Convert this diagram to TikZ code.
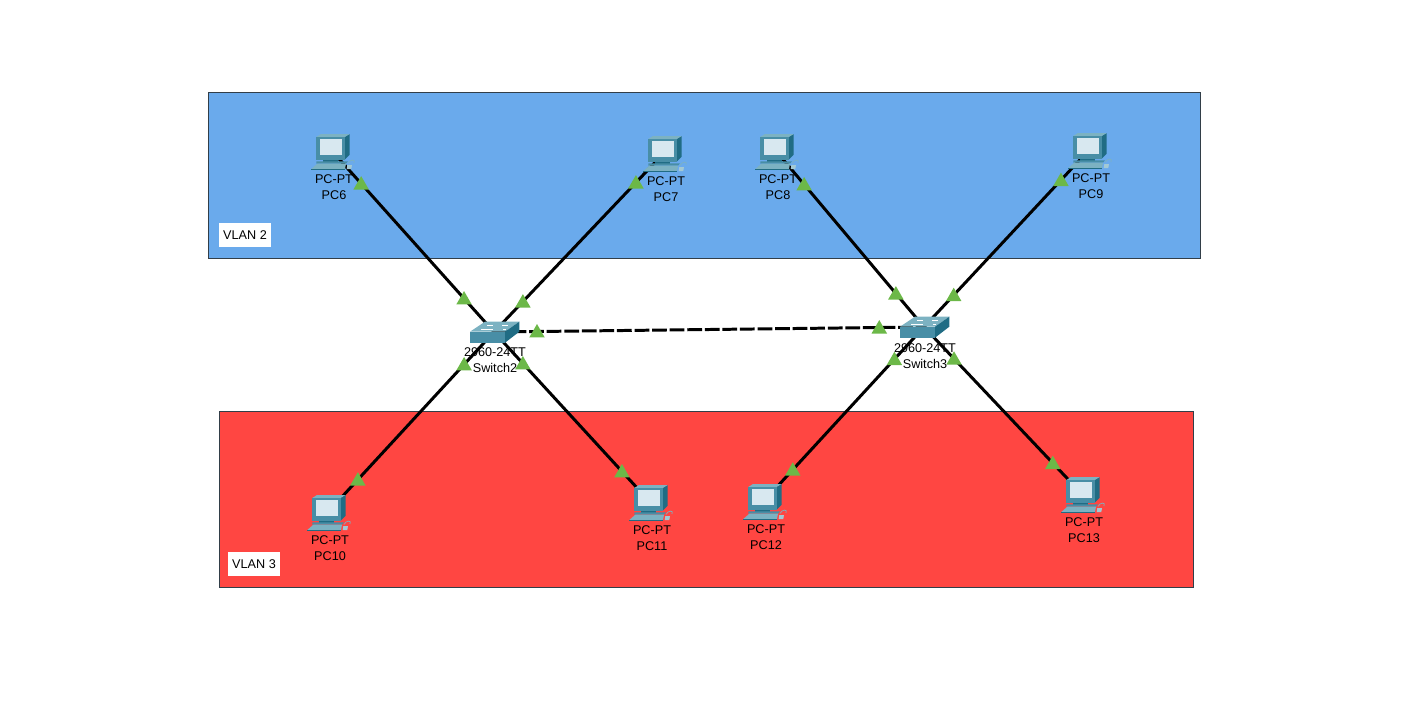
\documentclass[tikz,border=0pt]{standalone}
\usepackage{fontspec}
\setmainfont{Liberation Sans}
\usetikzlibrary{shapes.geometric}
\definecolor{vlanblue}{RGB}{106,170,236}
\definecolor{vlanred}{RGB}{255,70,66}
\definecolor{linkgreen}{RGB}{108,184,72}
\definecolor{frameline}{RGB}{50,62,72}
\definecolor{tealdark}{RGB}{32,108,132}
\definecolor{tealmid}{RGB}{72,142,166}
\definecolor{teallight}{RGB}{124,178,194}
\definecolor{screenlight}{RGB}{216,232,240}
\tikzset{
    vlanbox/.style={draw=frameline,line width=0.55pt},
    vlantag/.style={fill=white,font=\fontsize{7.2}{9}\selectfont,minimum width=30pt,minimum height=13.6pt,inner sep=0pt},
    devlabel/.style={align=center,inner sep=0pt,font=\fontsize{7.2}{9.1}\selectfont},
    cable/.style={line width=1.7pt,black},
    uplink/.style={line width=1.7pt,black,dash pattern=on 8.4pt off 1.6pt},
    linkup/.style={regular polygon,regular polygon sides=3,fill=linkgreen,inner sep=0pt,minimum size=10.2pt,yshift=-0.85pt},
    pics/pcicon/.style={code={
        \fill[tealdark] (12.7,-14)--(17.7,-17)--(17.7,3.7)--(12.7,8.7)--cycle;
        \fill[teallight] (-15.7,-14)--(-11,-17)--(17.7,-17)--(12.7,-14)--cycle;
        \fill[tealmid] (-15.7,-14) rectangle (12.7,8.7);
        \fill[screenlight] (-12.3,-12) rectangle (10,3.7);
        \fill[tealdark] (-9,8.7) rectangle (6,10.5);
        \fill[tealmid] (-15.7,10.3)--(16,10.3)--(14,12.7)--(-15.7,12.7)--cycle;
        \fill[teallight] (-20.7,18)--(-14.7,12.7)--(14,12.7)--(13,18)--cycle;
        \fill[tealdark] (-20.7,18) rectangle (13,18.8);
        \fill[teallight!70!white] (15.3,14)--(20,14)--(19.3,18)--(14.7,18)--cycle;
        \draw[teallight,line width=0.4pt] (16,12.5) .. controls (18,8) and (24,8) .. (22,12);
    }},
    pics/switchicon/.style={code={
        \fill[tealmid] (-24,-0.3) rectangle (11,10.7);
        \fill[teallight] (-24,-0.3)--(-9,-10.3)--(25.3,-10.3)--(11,-0.3)--cycle;
        \fill[tealdark] (11,-0.3)--(25.3,-10.3)--(25.3,-0.3)--(11,10.7)--cycle;
        \draw[white,line width=0.5pt] (-7,-7)--(-1,-7) (8,-7)--(14,-7) (-13,-3)--(-1,-3) (9,-3)--(12,-3);
    }}
}

\begin{document}
\begin{tikzpicture}[x=0.02cm,y=-0.02cm]
    \useasboundingbox (0,0) rectangle (1407,711);

    \coordinate (sw2) at (494,332);
    \coordinate (sw3) at (924,327);
    \coordinate (pc6) at (332,151);
    \coordinate (pc7) at (664,153);
    \coordinate (pc8) at (776,151);
    \coordinate (pc9) at (1089,150);
    \coordinate (pc10) at (328,512);
    \coordinate (pc11) at (650,502);
    \coordinate (pc12) at (764,501);
    \coordinate (pc13) at (1082,494);

    \draw[vlanbox,fill=vlanblue] (208,92) rectangle (1200,258);
    \draw[vlanbox,fill=vlanred] (219,411) rectangle (1193,587);
    \node[vlantag] (vlan2) at (245,235) {VLAN 2};
    \node[vlantag] (vlan3) at (254,564) {VLAN 3};

    \draw[cable] (pc6)--node[pos=0.18,linkup]{}node[pos=0.815,linkup]{}(sw2);
    \draw[cable] (pc7)--node[pos=0.165,linkup]{}node[pos=0.83,linkup]{}(sw2);
    \draw[cable] (pc8)--node[pos=0.19,linkup]{}node[pos=0.81,linkup]{}(sw3);
    \draw[cable] (pc9)--node[pos=0.17,linkup]{}node[pos=0.82,linkup]{}(sw3);
    \draw[cable] (pc10)--node[pos=0.18,linkup]{}node[pos=0.82,linkup]{}(sw2);
    \draw[cable] (pc11)--node[pos=0.18,linkup]{}node[pos=0.815,linkup]{}(sw2);
    \draw[cable] (pc12)--node[pos=0.18,linkup]{}node[pos=0.815,linkup]{}(sw3);
    \draw[cable] (pc13)--node[pos=0.185,linkup]{}node[pos=0.81,linkup]{}(sw3);
    \draw[uplink] (sw2)--node[pos=0.1,linkup]{}node[pos=0.896,linkup]{}(sw3);

    \pic at (pc6) {pcicon};
    \pic at (pc7) {pcicon};
    \pic at (pc8) {pcicon};
    \pic at (pc9) {pcicon};
    \pic at (pc10) {pcicon};
    \pic at (pc11) {pcicon};
    \pic at (pc12) {pcicon};
    \pic at (pc13) {pcicon};
    \pic at (sw2) {switchicon};
    \pic at (sw3) {switchicon};

    \node[devlabel] (lbl6) at (334,187.5) {PC-PT\\PC6};
    \node[devlabel] (lbl7) at (666,189.5) {PC-PT\\PC7};
    \node[devlabel] (lbl8) at (778,187.5) {PC-PT\\PC8};
    \node[devlabel] (lbl9) at (1091,186.5) {PC-PT\\PC9};
    \node[devlabel] (lbl10) at (330,548.5) {PC-PT\\PC10};
    \node[devlabel] (lbl11) at (652,538.5) {PC-PT\\PC11};
    \node[devlabel] (lbl12) at (766,537.5) {PC-PT\\PC12};
    \node[devlabel] (lbl13) at (1084,530.5) {PC-PT\\PC13};
    \node[devlabel] (lblsw2) at (495,360) {2960-24TT\\Switch2};
    \node[devlabel] (lblsw3) at (925,356) {2960-24TT\\Switch3};
\end{tikzpicture}
\end{document}
